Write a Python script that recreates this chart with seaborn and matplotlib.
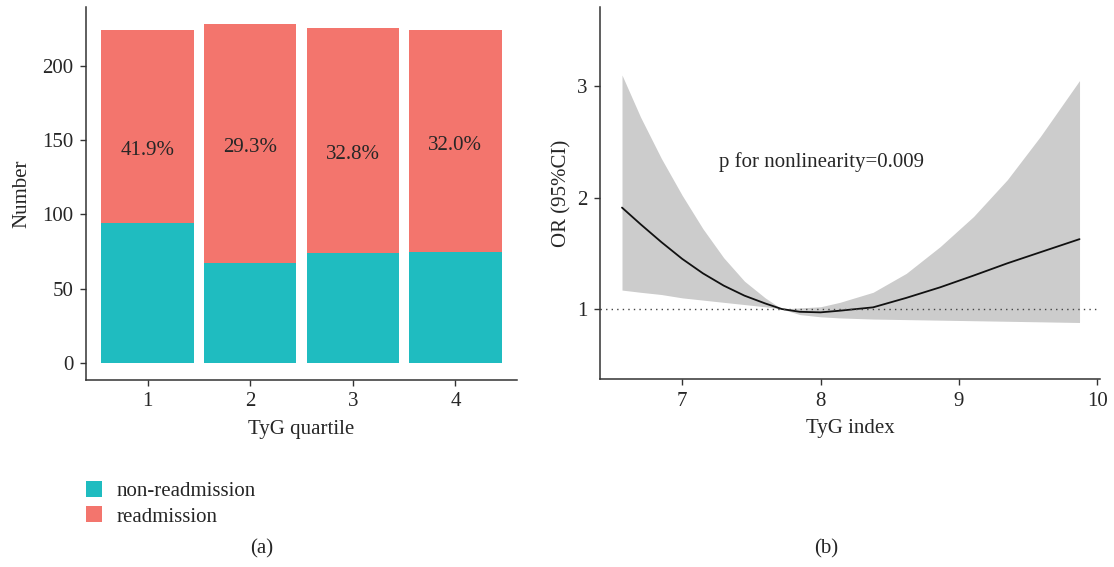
import matplotlib
matplotlib.use("Agg")
import matplotlib.pyplot as plt
import seaborn as sns
import pandas as pd
import numpy as np
from matplotlib.patches import Patch

sns.set_theme(style="ticks")
plt.rcParams['font.family'] = ['Liberation Serif', 'DejaVu Serif']

# ---------------- data ----------------
quartiles = ['1', '2', '3', '4']
non_readmission = [94, 67, 74, 75]
readmission = [130, 161, 151, 149]
pct_labels = ['41.9%', '29.3%', '32.8%', '32.0%']
pct_label_y = [142.6, 145.0, 140.5, 146.6]

tyg_x = [6.565, 6.7, 6.85, 7.0, 7.15, 7.3, 7.45, 7.6, 7.72, 7.85, 8.0, 8.14,
         8.38, 8.62, 8.865, 9.106, 9.35, 9.59, 9.872]
or_est = [1.91, 1.76, 1.60, 1.45, 1.32, 1.21, 1.12, 1.05, 1.0, 0.975, 0.97, 0.985,
          1.015, 1.10, 1.195, 1.30, 1.41, 1.51, 1.627]
or_upper = [3.10, 2.72, 2.35, 2.02, 1.72, 1.46, 1.25, 1.10, 1.0, 1.01, 1.02, 1.06,
            1.15, 1.32, 1.56, 1.83, 2.16, 2.55, 3.05]
or_lower = [1.17, 1.15, 1.13, 1.10, 1.08, 1.06, 1.04, 1.02, 1.0, 0.95, 0.93, 0.92,
            0.91, 0.905, 0.90, 0.895, 0.89, 0.885, 0.879]

TEAL = '#1FBCC0'
RED = '#F3756D'
TXT = '#262626'
SPINE = '#333333'

W, H = 1114, 567
fig = plt.figure(figsize=(W / 100, H / 100), dpi=100)

def px_axes(l, r, t, b):
    return fig.add_axes([l / W, 1 - b / H, (r - l) / W, (b - t) / H])

FS = 15

# ---------------- left panel ----------------
ax1 = px_axes(86, 517, 7, 380)
df = pd.DataFrame({'q': quartiles,
                   'non': non_readmission,
                   'total': [a + b for a, b in zip(non_readmission, readmission)]})
sns.barplot(data=df, x='q', y='total', color=RED, width=0.9, ax=ax1,
            saturation=1, edgecolor='none', linewidth=0)
sns.barplot(data=df, x='q', y='non', color=TEAL, width=0.9, ax=ax1,
            saturation=1, edgecolor='none', linewidth=0)
for i, (lab, yy) in enumerate(zip(pct_labels, pct_label_y)):
    ax1.text(i, yy, lab, ha='center', va='center', fontsize=FS, color=TXT)
ax1.set_xlim(-0.6, 3.6)
ax1.set_ylim(-11.4, 239.4)
ax1.set_yticks([0, 50, 100, 150, 200])
ax1.set_xlabel('TyG quartile', fontsize=FS, color=TXT, labelpad=6)
ax1.set_ylabel('Number', fontsize=FS, color=TXT, labelpad=8)

# ---------------- right panel ----------------
ax2 = px_axes(600, 1100, 7, 379)
ax2.fill_between(tyg_x, or_lower, or_upper, color='#CCCCCC', linewidth=0)
sns.lineplot(x=tyg_x, y=or_est, color='#111111', linewidth=1.3, ax=ax2)
ax2.axhline(1, color='#444444', linestyle=(0, (1, 3)), linewidth=1.0)
ax2.text(8.01, 2.32, 'p for nonlinearity=0.009', ha='center', va='center',
         fontsize=FS, color=TXT)
ax2.set_xlim(6.406, 10.02)
ax2.set_ylim(0.372, 3.71)
ax2.set_xticks([7, 8, 9, 10])
ax2.set_yticks([1, 2, 3])
ax2.set_xlabel('TyG index', fontsize=FS, color=TXT, labelpad=6)
ax2.set_ylabel('OR (95%CI)', fontsize=FS, color=TXT, labelpad=4)

for ax in (ax1, ax2):
    sns.despine(ax=ax)
    for s in ('left', 'bottom'):
        ax.spines[s].set_color(SPINE)
        ax.spines[s].set_linewidth(1.1)
    ax.tick_params(axis='both', direction='out', length=4, width=1,
                   color=SPINE, labelsize=FS, labelcolor=TXT, pad=5)
    ax.grid(False)

# legend
handles = [Patch(facecolor=TEAL, edgecolor='none'), Patch(facecolor=RED, edgecolor='none')]
fig.legend(handles, ['non-readmission', 'readmission'], loc='upper left',
           bbox_to_anchor=(82 / W, 1 - 477 / H), frameon=False, fontsize=FS,
           handlelength=0.78, handleheight=0.78, handletextpad=0.7, labelspacing=0.25,
           borderaxespad=0, borderpad=0.2, labelcolor=TXT)

fig.text(262 / W, 1 - 549 / H, '(a)', ha='center', va='center', fontsize=FS, color=TXT)
fig.text(826 / W, 1 - 549 / H, '(b)', ha='center', va='center', fontsize=FS, color=TXT)

fig.savefig('out.png', dpi=100)
